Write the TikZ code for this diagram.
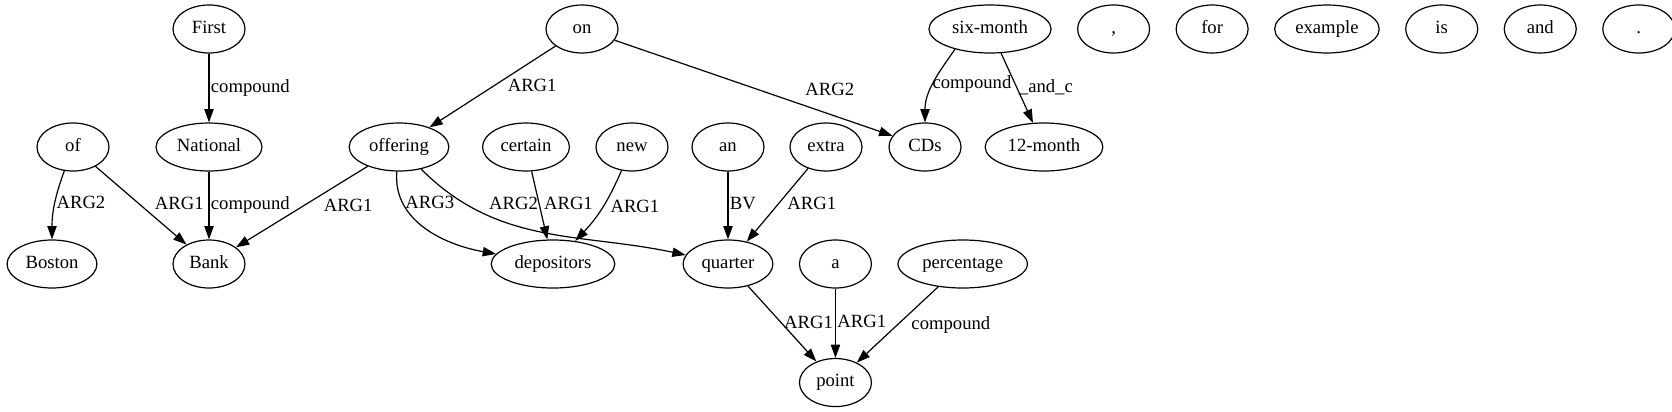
\documentclass[tikz,border=0pt]{standalone}
\usepackage{fontspec}
\setmainfont{Liberation Serif}
\usetikzlibrary{arrows.meta, positioning, shapes.geometric}

\begin{document}
\begin{tikzpicture}[
        x=0.75pt, y=-0.75pt,
        every node/.style={font=\fontsize{14}{16}\selectfont, text height=9.5pt, text depth=3pt}, % Estilo para todo el texto
        word/.style={draw=black, ellipse, line width=0.9pt, minimum width=54pt, minimum height=36pt, inner xsep=4pt, inner ysep=2pt},
        edge_label/.style={inner sep=1pt},
        arrow_style/.style={-{Triangle[length=10pt, width=7pt]}, line width=0.9pt, draw=black}
    ]
        \useasboundingbox (0,0) rectangle (1672,411);

        % --- Fila superior ---
        \node[word] (First) at (209,29) {First};
        \node[word] (on) at (582,29) {on};
        \node[word] (sixmonth) at (990,29) {six-month};
        % Palabras sueltas, sin aristas
        \node[word, right=19pt of sixmonth] (comma) {,};
        \node[word, right=19pt of comma] (for) {for};
        \node[word, right=19pt of for] (example) {example};
        \node[word, right=19pt of example] (is) {is};
        \node[word, right=19pt of is] (and) {and};
        \node[word, right=19pt of and] (period) {.};

        % --- Segunda fila ---
        \node[word] (of) at (73,147) {of};
        \node[word] (National) at (209,147) {National};
        \node[word] (offering) at (399,147) {offering};
        \node[word] (certain) at (526,147) {certain};
        \node[word] (new) at (632,147) {new};
        \node[word] (an) at (728,147) {an};
        \node[word] (extra) at (826,147) {extra};
        \node[word] (CDs) at (925,147) {CDs};
        \node[word] (twelvemonth) at (1044,147) {12-month};

        % --- Tercera fila ---
        \node[word] (Boston) at (52,264) {Boston};
        \node[word] (Bank) at (209,264) {Bank};
        \node[word] (depositors) at (553,264) {depositors};
        \node[word] (quarter) at (728,264) {quarter};
        \node[word, right=19pt of quarter] (a) {a};
        \node[word, right=19pt of a] (percentage) {percentage};

        % --- Fila inferior ---
        \node[word, below=52pt of a] (point) {point};

        % --- Aristas ---
        \draw[arrow_style] (First) -- node[edge_label, right] {compound} (National);
        \draw[arrow_style] (National) -- node[edge_label, right] {compound} (Bank);
        \draw[arrow_style] (of) to[out=-110, in=90] node[edge_label, right] {ARG2} (Boston);
        \draw[arrow_style] (of) -- node[edge_label, right, xshift=9pt] {ARG1} (Bank);
        \draw[arrow_style] (offering) -- node[edge_label, right, xshift=15pt] {ARG1} (Bank);
        \draw[arrow_style] (offering) to[out=-95, in=170] node[edge_label, pos=0.25, right] {ARG3} (depositors);
        \draw[arrow_style] (offering) to[out=-45, in=168] node[edge_label, pos=0.28, above right] {ARG2} (quarter);
        \draw[arrow_style] (certain) -- node[edge_label, right, xshift=2pt] {ARG1} (depositors);
        \draw[arrow_style] (new) to[bend left=10] node[edge_label, right, xshift=5pt] {ARG1} (depositors);
        \draw[arrow_style] (on) -- node[edge_label, right, xshift=10pt] {ARG1} (offering);
        \draw[arrow_style] (on) -- node[edge_label, pos=0.68, above right, yshift=3pt] {ARG2} (CDs);
        \draw[arrow_style] (sixmonth.210) to[out=-125, in=90] node[edge_label, right, xshift=-2pt] {compound} (CDs);
        \draw[arrow_style] (sixmonth) -- node[edge_label, right] {\_and\_c} (twelvemonth);
        \draw[arrow_style] (an) -- node[edge_label, right] {BV} (quarter);
        \draw[arrow_style] (extra) -- node[edge_label, right, xshift=6pt] {ARG1} (quarter);
        \draw[arrow_style] (quarter) -- node[edge_label, right] {ARG1} (point);
        \draw[arrow_style] (a) -- node[edge_label, right] {ARG1} (point);
        \draw[arrow_style] (percentage) -- node[edge_label, right, xshift=9pt] {compound} (point);

    \end{tikzpicture}
\end{document}
